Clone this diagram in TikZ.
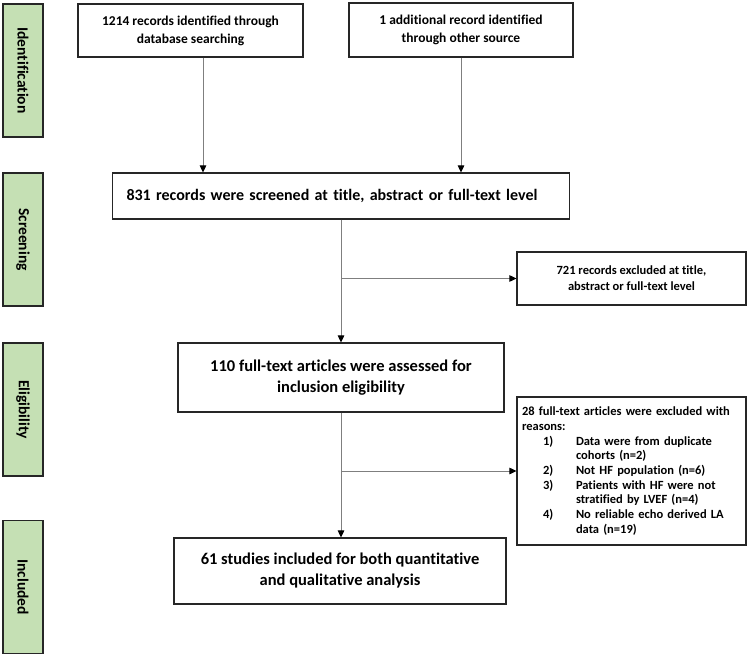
\documentclass[tikz,border=0pt]{standalone}
\usepackage{fontspec}
\setmainfont{Carlito}[Ligatures=NoCommon]
\usetikzlibrary{arrows.meta,calc}
\definecolor{phase}{HTML}{C5E0B4}
\definecolor{edge}{HTML}{262626}
\definecolor{conn}{HTML}{7F7F7F}
\begin{document}
\begin{tikzpicture}[x=1pt,y=-1pt,
  phasebox/.style={draw=edge,line width=1.2pt,fill=phase,rotate=-90,minimum width=133pt,minimum height=40pt,inner sep=0pt,font=\fontsize{15.5}{18}\selectfont\bfseries},
  flowbox/.style={draw=edge,line width=1.1pt,inner sep=0pt,align=center},
  arr/.style={draw=conn,line width=0.9pt,-{Triangle[length=7pt,width=6.5pt,color=black,fill=black]}}]
\useasboundingbox (0,0) rectangle (749,658);
% phase labels
\node[phasebox] (p1) at (23,70.5) {Identification};
\node[phasebox] (p2) at (23,239.5) {Screening};
\node[phasebox] (p3) at (23,409.5) {Eligibility};
\node[phasebox] (p4) at (23,587) {Included};
% flow boxes
\node[flowbox,minimum width=225pt,minimum height=53pt,font=\fontsize{13.5}{18}\selectfont\bfseries] (A) at (190.5,30.5) {1214 records identified through\\database searching};
\node[flowbox,minimum width=224pt,minimum height=54pt,font=\fontsize{13.5}{18}\selectfont\bfseries] (B) at (461,30) {1 additional record identified\\through other source};
\node[flowbox,align=left,text width=429pt,inner xsep=14pt,minimum height=46pt,font=\fontsize{16}{20}\selectfont\bfseries] (C) at (341,196) {831 records were screened at title, abstract or full-text level};
\node[flowbox,minimum width=229pt,minimum height=53pt,font=\fontsize{12.5}{16}\selectfont\bfseries] (D) at (631.5,278.5) {721 records excluded at title,\\abstract or full-text level};
\node[flowbox,minimum width=326pt,minimum height=69pt,font=\fontsize{16.5}{21}\selectfont\bfseries] (E) at (341,377.5) {110 full-text articles were assessed for\\inclusion eligibility};
\node[flowbox,align=left,text width=219pt,inner xsep=5pt,minimum height=148pt,font=\fontsize{12.5}{14.7}\selectfont\bfseries] (F) at (631.5,471) {28 full-text articles were excluded with\\reasons:\\
\hspace*{21pt}\makebox[33pt][l]{1)}Data were from duplicate\\
\hspace*{54pt}cohorts (n=2)\\
\hspace*{21pt}\makebox[33pt][l]{2)}Not HF population (n=6)\\
\hspace*{21pt}\makebox[33pt][l]{3)}Patients with HF were not\\
\hspace*{54pt}stratified by LVEF (n=4)\\
\hspace*{21pt}\makebox[33pt][l]{4)}No reliable echo derived LA\\
\hspace*{54pt}data (n=19)};
\node[flowbox,minimum width=332pt,minimum height=66pt,font=\fontsize{16.5}{21}\selectfont\bfseries] (G) at (340,571) {61 studies included for both quantitative\\and qualitative analysis};
% connectors
\coordinate (a1) at ([xshift=12.5pt]A.south);
\draw[arr] (a1) -- (a1 |- C.north);
\draw[arr] (B.south) -- (B.south |- C.north);
\draw[arr] (C.south) -- (E.north);
\draw[arr] (C.south |- D.west) -- (D.west);
\draw[arr] (E.south) -- (E.south |- G.north);
\draw[arr] (E.south |- F.west) -- (F.west);
\end{tikzpicture}
\end{document}
